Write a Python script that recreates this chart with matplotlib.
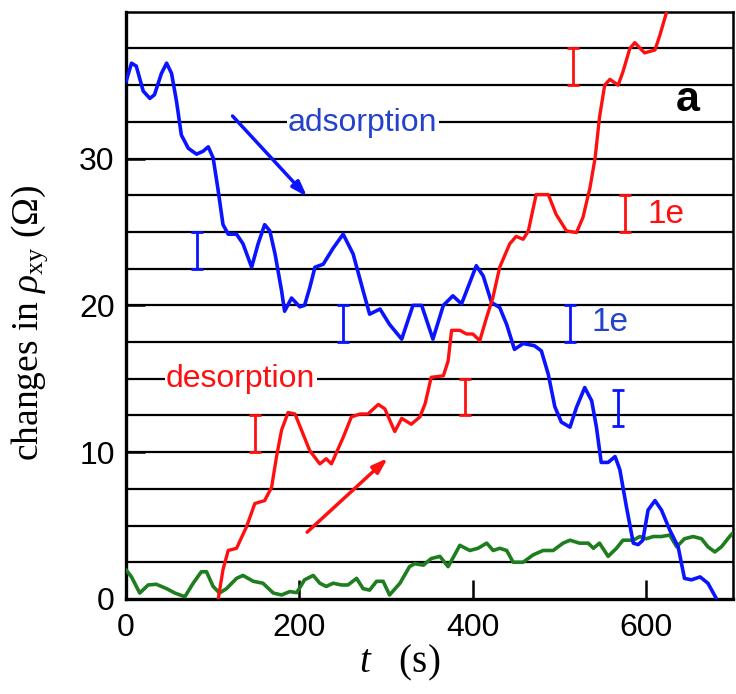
import matplotlib
matplotlib.use("Agg")
import matplotlib.pyplot as plt

plt.rcParams.update({
    "mathtext.fontset": "custom",
    "mathtext.rm": "Liberation Serif",
    "mathtext.it": "Liberation Serif:italic",
    "mathtext.bf": "Liberation Serif:bold",
})

BLUE = "#0a14ff"
RED = "#ff1010"
GREEN = "#1e7d1e"
TEXT_BLUE = "#2442cc"

# traces (t in s, change in rho_xy in Ohm)
blue_t = [0, 6.5, 12, 20, 27.7, 33, 41, 47, 52.7, 58.4, 64, 72, 81.5, 89, 95, 100.6,
          106, 112, 118, 127.6, 135, 145, 152.5, 160, 166, 172, 179.5, 183, 191, 200.5,
          206, 212, 218, 227.5, 239, 250.5, 262, 273.5, 281, 293, 304, 318, 331, 341,
          354, 366, 377, 387, 404, 412, 421.5, 431, 439, 448, 458, 471, 479, 487, 494.5,
          502, 512, 519.5, 529, 537, 542.5, 548, 556, 564, 569.5, 577, 585, 590.6, 596,
          602, 610, 617.5, 627, 636.7, 644, 652, 662, 671, 681]
blue_y = [35.2, 36.5, 36.3, 34.6, 34.1, 34.35, 35.8, 36.5, 35.8, 33.9, 31.6, 30.7, 30.3,
          30.5, 30.8, 30.05, 28.0, 25.5, 24.85, 24.85, 24.2, 22.6, 24.2, 25.5, 25.07, 23.5,
          21.0, 19.6, 20.5, 19.9, 20.0, 21.2, 22.6, 22.8, 23.9, 24.85, 23.5, 21.0, 19.4,
          19.75, 18.7, 17.7, 20.0, 20.0, 17.7, 20.0, 20.65, 20.1, 22.7, 22.0, 20.2, 19.85,
          18.7, 17.0, 17.4, 17.25, 16.9, 15.3, 13.1, 12.05, 11.7, 13.05, 14.4, 13.5, 11.7,
          9.3, 9.3, 9.7, 8.8, 6.3, 3.8, 3.7, 4.0, 6.05, 6.7, 6.05, 4.7, 3.55, 1.4, 1.3,
          1.5, 1.07, 0]

red_t = [106.5, 112, 118, 127.6, 139, 148.7, 160, 168, 173.7, 179.5, 187, 195, 202.5,
         212, 223.6, 231, 237, 243, 250.5, 260, 270, 279, 291, 298.6, 310, 318, 329, 339,
         345, 352, 366, 371.5, 375.5, 385, 392.7, 400, 408, 416, 423, 431, 442.6, 450,
         458, 464, 473, 487, 496, 508, 519.5, 527, 535, 541, 546, 552, 558, 567.5, 573,
         581, 586.7, 598, 610, 615.6, 623, 628]
red_y = [0, 2.0, 3.3, 3.45, 4.9, 6.5, 6.7, 7.6, 9.7, 11.5, 12.7, 12.6, 11.5, 10.1, 9.2,
         9.55, 9.2, 10.0, 11.0, 12.4, 12.6, 12.6, 13.25, 12.95, 11.4, 12.3, 11.9, 12.4,
         13.3, 15.1, 15.2, 16.2, 18.3, 18.3, 18.05, 18.05, 17.6, 19.2, 20.5, 22.6, 24.2,
         24.7, 24.5, 25.07, 27.55, 27.55, 26.2, 25.07, 24.96, 26.0, 28.0, 30.05, 32.8,
         35.0, 35.4, 35.0, 35.9, 37.5, 37.9, 37.2, 37.4, 38.4, 39.9, 41.0]

green_t = [0, 6.5, 16, 25.7, 35, 47, 56.5, 68, 77.6, 87, 93, 100.6, 108, 116, 127.6, 135,
           147, 158, 170, 179.5, 189, 197, 206, 216, 223.6, 231, 239, 248.6, 256, 266,
           273.5, 281, 289, 296.6, 304, 316, 327, 333, 343, 352, 362, 371.5, 379, 385,
           396.5, 406, 416, 423.5, 431, 439, 446.5, 458, 469.5, 481, 492.6, 504, 512, 523,
           533, 539, 546, 556, 565.6, 573, 585, 592.5, 600, 608, 617.5, 627, 635, 644, 654,
           663.6, 671, 679, 686.6, 696, 700]
green_y = [2.0, 1.5, 0.4, 0.95, 1.0, 0.7, 0.4, 0.15, 1.07, 1.85, 1.85, 0.85, 0.4, 0.7,
           1.4, 1.6, 1.2, 1.07, 0.4, 0.27, 0.5, 0.43, 1.3, 1.6, 1.07, 0.85, 1.07, 0.95,
           0.95, 1.4, 0.7, 0.6, 1.2, 1.2, 0.27, 1.07, 2.2, 2.4, 2.3, 2.75, 2.9, 2.2, 3.0,
           3.65, 3.3, 3.45, 3.8, 3.3, 3.45, 3.3, 2.5, 2.5, 3.0, 3.3, 3.3, 3.8, 4.0, 3.8,
           3.8, 3.45, 3.8, 2.9, 3.45, 4.0, 4.0, 4.25, 4.1, 4.25, 4.25, 4.35, 3.55, 4.1,
           4.25, 4.1, 3.55, 3.2, 3.55, 4.25, 4.5]

# one-electron step markers (1e ~ 2.5 Ohm)
blue_bar_t = [82, 250, 512, 567]
blue_bar_lo = [22.5, 17.5, 17.5, 11.75]
blue_bar_hi = [25.0, 20.0, 20.0, 14.25]
red_bar_t = [149, 391, 515, 576]
red_bar_lo = [10.0, 12.5, 35.0, 25.0]
red_bar_hi = [12.5, 15.0, 37.5, 27.5]

step_levels = [2.5 * k for k in range(1, 16)]

x_ticks = [0, 200, 400, 600]
y_ticks = [0, 10, 20, 30]

fig = plt.figure(figsize=(7.36, 6.94), dpi=100)
ax = fig.add_axes([0.171, 0.137, 0.825, 0.846])

ax.hlines(step_levels, 0, 700, color="black", lw=1.6, zorder=1)

line_kw = dict(solid_joinstyle="round", solid_capstyle="round", zorder=3)
ax.plot(green_t, green_y, color=GREEN, lw=2.6, **line_kw)
ax.plot(blue_t, blue_y, color=BLUE, lw=2.6, **line_kw)
ax.plot(red_t, red_y, color=RED, lw=2.4, **line_kw)


def step_bars(ts, lo, hi, color):
    mid = [(a + b) / 2 for a, b in zip(lo, hi)]
    err = [(b - a) / 2 for a, b in zip(lo, hi)]
    ax.errorbar(ts, mid, yerr=err, fmt="none", ecolor=color, elinewidth=2,
                capsize=4.3, capthick=2, zorder=5)


step_bars(blue_bar_t, blue_bar_lo, blue_bar_hi, BLUE)
step_bars(red_bar_t, red_bar_lo, red_bar_hi, RED)

ax.annotate("", xy=(209, 27.4), xytext=(123, 32.9),
            arrowprops=dict(arrowstyle="-|>,head_length=0.9,head_width=0.3",
                            color=BLUE, lw=2.5, shrinkA=0, shrinkB=0))
ax.annotate("", xy=(302, 9.6), xytext=(209, 4.55),
            arrowprops=dict(arrowstyle="-|>,head_length=0.9,head_width=0.3",
                            color=RED, lw=2.5, shrinkA=0, shrinkB=0))

ax.text(273, 32.4, "adsorption", color=TEXT_BLUE, fontsize=23, ha="center",
        va="center", family="Liberation Sans", zorder=6,
        bbox=dict(facecolor="white", edgecolor="none", pad=1))
ax.text(132.5, 15.0, "desorption", color=RED, fontsize=23, ha="center",
        va="center", family="Liberation Sans", zorder=6,
        bbox=dict(facecolor="white", edgecolor="none", pad=1))
ax.text(601, 26.2, "1e", color=RED, fontsize=24, va="center",
        family="Liberation Sans")
ax.text(537, 18.8, "1e", color=TEXT_BLUE, fontsize=24, va="center",
        family="Liberation Sans")
ax.text(648, 34.0, "a", color="black", fontsize=31, fontweight="bold",
        ha="center", va="center", family="Liberation Sans")

ax.set_xlim(0, 700)
ax.set_ylim(0, 40)
ax.set_xticks(x_ticks)
ax.set_yticks(y_ticks)
for lab in ax.get_xticklabels() + ax.get_yticklabels():
    lab.set_family("Liberation Sans")
    lab.set_fontsize(23)
ax.tick_params(direction="in", length=14, width=1.8)
ax.tick_params(axis="x", pad=10)
ax.tick_params(axis="y", pad=8)

for side in ["left", "bottom"]:
    ax.spines[side].set_linewidth(2.4)
for side in ["top", "right"]:
    ax.spines[side].set_linewidth(1.8)

ax.set_xlabel(r"$t$   (s)", fontsize=28, family="Liberation Serif")
ax.xaxis.set_label_coords(0.451, -0.075)
ax.set_ylabel(r"changes in $\rho_{\mathrm{xy}}$ ($\Omega$)", fontsize=27,
              family="Liberation Serif")
ax.yaxis.set_label_coords(-0.125, 0.47)

fig.savefig("out.png", dpi=100)
